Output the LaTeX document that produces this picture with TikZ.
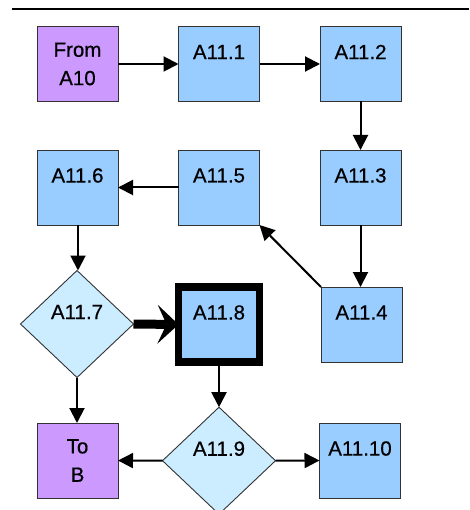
\documentclass[tikz,border=0pt]{standalone}
\usepackage{fontspec}
\setmainfont{Liberation Sans}
\newfontfamily\lblfont[FakeBold=0.5]{Liberation Sans}
\usetikzlibrary{arrows.meta,shapes.geometric}
\definecolor{boxblue}{HTML}{99CCFF}
\definecolor{boxpurple}{HTML}{CC99FF}
\definecolor{diafill}{HTML}{CCECFF}
\definecolor{edgegray}{HTML}{333333}
\tikzset{
  base/.style={draw=edgegray, line width=0.9pt, inner sep=0pt, outer sep=0pt,
    font=\lblfont\fontsize{20.5}{28.4}\selectfont},
  procbox/.style={base, rectangle, fill=boxblue, minimum width=81pt, minimum height=75pt},
  termbox/.style={base, rectangle, fill=boxpurple, minimum width=81pt, minimum height=75pt, align=center},
  decbox/.style={base, diamond, fill=diafill, minimum width=113pt, minimum height=107pt},
  lbl/.style={font=\lblfont\fontsize{20.5}{28.4}\selectfont, inner sep=0pt},
  flow/.style={line width=2pt, -{Triangle[length=15pt,width=15pt]}},
  boldflow/.style={line width=9pt, -{Stealth[length=21pt,width=39pt,inset=9pt,line width=0pt]}}
}
\begin{document}
\begin{tikzpicture}[x=1pt,y=-1pt]
\useasboundingbox (0,0) rectangle (469,510);
\draw[line width=2pt] (12,8.7) -- (469,8.7);

% nodes
\node[termbox] (from) at (77.5,64) {From\\A10};
\node[procbox] (a1) at (219,64) {};
\node[procbox] (a2) at (360.5,64) {};
\node[procbox] (a3) at (360.5,187.5) {};
\node[procbox] (a5) at (219,187.5) {};
\node[procbox] (a6) at (77.5,187.5) {};
\node[procbox] (a4) at (361.5,324.5) {};
\node[decbox] (a7) at (77,324) {};
\node[procbox, line width=7.5pt, draw=black] (a8) at (219,324.5) {};
\node[decbox] (a9) at (219,460.7) {};
\node[procbox] (a10) at (360,460.5) {};
\node[termbox] (tob) at (77.5,460.5) {To\\B};

% labels
\node[lbl] (t1) at ([yshift=12pt]a1.center) {A11.1};
\node[lbl] (t2) at ([yshift=12pt]a2.center) {A11.2};
\node[lbl] (t3) at ([yshift=12pt]a3.center) {A11.3};
\node[lbl] (t4) at ([yshift=12pt]a4.center) {A11.4};
\node[lbl] (t5) at ([yshift=12pt]a5.center) {A11.5};
\node[lbl] (t6) at ([yshift=12pt]a6.center) {A11.6};
\node[lbl] (t7) at ([yshift=12pt]a7.center) {A11.7};
\node[lbl] (t8) at ([yshift=12pt]a8.center) {A11.8};
\node[lbl] (t9) at ([yshift=12pt]a9.center) {A11.9};
\node[lbl] (t10) at ([yshift=12pt]a10.center) {A11.10};

% connectors
\draw[flow] (from.east) -- (a1.west);
\draw[flow] (a1.east) -- (a2.west);
\draw[flow] (a2.south) -- (a3.north);
\draw[flow] (a3.south) -- ([xshift=-1pt]a4.north);
\draw[flow] (a4.north west) -- (a5.south east);
\draw[flow] (a5.west) -- (a6.east);
\draw[flow] ([xshift=0.5pt]a6.south) -- ([xshift=1pt]a7.north);
\draw[boldflow] (a7.east) -- (a8.west);
\draw[flow] (a7.south) -- ([xshift=-0.5pt]tob.north);
\draw[flow] (a8.south) -- (a9.north);
\draw[flow] (a9.west) -- (tob.east);
\draw[flow] (a9.east) -- (a10.west);
\end{tikzpicture}
\end{document}
